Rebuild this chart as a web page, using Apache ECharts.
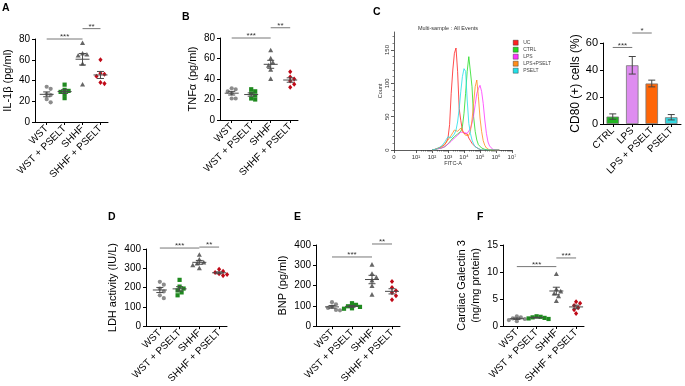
<!DOCTYPE html>
<html>
<head>
<meta charset="utf-8">
<title>PSELT panels</title>
<script src="https://cdn.jsdelivr.net/npm/echarts@6.0.0/dist/echarts.min.js"></script>
<style>
  html, body { margin: 0; padding: 0; background: #fff; }
  #chart { width: 685px; height: 386px; }
</style>
</head>
<body>
<div id="chart"></div>
<script>
// group names shared by the dot plots
const groups = ['WST', 'WST + PSELT', 'SHHF', 'SHHF + PSELT'];

// A: IL-1β (pg/ml)
const il1bWst = [34, 32, 27, 26, 22, 19];
const il1bWstPselt = [36, 31, 30, 29, 27, 23];
const il1bShhf = [76, 66, 65, 64, 56, 36];
const il1bShhfPselt = [60, 47, 46, 44, 38, 37];
const il1bSig = [[0, 2, 80, '***'], [2, 3, 90, '**']];

// B: TNFα (pg/ml)
const tnfWst = [31, 30, 28, 26, 21, 21];
const tnfWstPselt = [30, 28, 26, 24, 21, 20];
const tnfShhf = [68, 60, 56, 53, 49, 40];
const tnfShhfPselt = [47, 42, 40, 38, 35, 32];
const tnfSig = [[0, 2, 80, '***'], [2, 3, 90, '**']];

// C: flow histogram (x = decade position on FITC-A axis)
const histNames = ['UC', 'CTRL', 'LPS', 'LPS+PSELT', 'PSELT'];
const histX = [2.0, 2.1, 2.2, 2.3, 2.4, 2.5, 2.6, 2.7, 2.8, 2.9,
               3.0, 3.1, 3.2, 3.3, 3.4, 3.5, 3.6, 3.7, 3.8, 3.9,
               4.0, 4.1, 4.2, 4.3, 4.4, 4.5, 4.6, 4.7, 4.8, 4.9,
               5.0, 5.1, 5.2, 5.3, 5.4, 5.5, 5.6, 5.7, 5.8, 5.9,
               6.0, 6.1, 6.2];
const ucCount = [0, 1, 1, 2, 3, 4, 5, 6, 8, 12,
                 18, 38, 85, 120, 145, 153, 118, 62, 44, 30,
                 25, 22, 24, 18, 14, 10, 7, 5, 3, 2,
                 1, 0, 0, 0, 0, 0, 0, 0, 0, 0, 0, 0, 0];
const ctrlCount = [0, 0, 1, 1, 2, 2, 3, 4, 5, 7,
                   9, 12, 15, 18, 20, 22, 24, 26, 28, 35,
                   55, 85, 118, 140, 143, 95, 50, 28, 15, 8,
                   5, 3, 2, 1, 0, 0, 0, 0, 0, 0, 0, 0, 0];
const lpsCount = [0, 0, 1, 1, 2, 2, 3, 4, 5, 7,
                  9, 11, 13, 15, 18, 20, 22, 25, 27, 28,
                  26, 24, 25, 28, 32, 40, 52, 68, 85, 92,
                  97, 88, 70, 45, 25, 12, 6, 3, 1, 0, 0, 0, 0];
const lpsPseltCount = [0, 1, 1, 2, 3, 4, 5, 7, 9, 12,
                       15, 18, 22, 26, 30, 32, 28, 30, 33, 28,
                       25, 22, 20, 22, 28, 45, 70, 95, 105, 80,
                       48, 28, 14, 7, 3, 1, 0, 0, 0, 0, 0, 0, 0];
const pseltCount = [0, 1, 1, 2, 3, 4, 6, 8, 12, 16,
                    20, 22, 18, 20, 24, 30, 42, 62, 88, 110,
                    122, 118, 75, 40, 25, 15, 9, 5, 3, 2,
                    1, 0, 0, 0, 0, 0, 0, 0, 0, 0, 0, 0, 0];
const histCountTicks = [0, 50, 100, 150];

// C: CD80 (+) cells (%)
const cdCats = ['CTRL', 'LPS', 'LPS + PSELT', 'PSELT'];
const cdValues = [5.5, 43.5, 30, 5];
const cdErr = [2, 6.5, 2.5, 2];
const cdSig = [[0, 1, 56.7, '***'], [1, 2, 67.4, '*']];

// D: LDH activity (IU/L)
const ldhWst = [230, 215, 195, 180, 160, 145];
const ldhWstPselt = [240, 205, 195, 185, 175, 160];
const ldhShhf = [370, 345, 330, 325, 315, 300];
const ldhShhfPselt = [295, 285, 278, 272, 268, 262];
const ldhSig = [[0, 2, 405, '***'], [2, 3, 410, '**']];

// E: BNP (pg/ml)
const bnpWst = [118, 108, 96, 90, 80, 78];
const bnpWstPselt = [113, 105, 98, 95, 88, 86];
const bnpShhf = [303, 258, 240, 225, 198, 155];
const bnpShhfPselt = [220, 190, 175, 165, 150, 130];
const bnpSig = [[0, 2, 341, '***'], [2, 3, 405, '**']];

// F: Cardiac Galectin 3 (ng/mg protein)
const galWst = [1.8, 1.6, 1.4, 1.3, 1.1, 0.9];
const galWstPselt = [1.8, 1.7, 1.6, 1.5, 1.4, 1.3];
const galShhf = [9.6, 6.8, 6.4, 6.0, 5.5, 4.6];
const galShhfPselt = [4.5, 4.2, 3.8, 3.4, 3.0, 2.3];
const galSig = [[0, 2, 11, '***'], [2, 3, 12.6, '***']];

const FONT = 'Liberation Sans, Arial, sans-serif';
const sup = ['⁰', '¹', '²', '³', '⁴', '⁵', '⁶', '⁷'];

const dotLook = [
  { kind: 'circle', size: 4.2, color: '#8c8c8c' },
  { kind: 'rect', size: 4.2, color: '#1f8a1f' },
  { kind: 'triangle', size: 4.6, color: '#666666' },
  { kind: 'diamond', size: 4.2, color: '#c00a18' }
];
const histColors = ['#ff2020', '#22dd22', '#ff33ff', '#ff8c1a', '#22e0e8'];
const barColors = ['#22b422', '#de8cf0', '#ff6608', '#33d8e0'];

const dotPanels = [
  { box: { left: 31, top: 39, width: 77, height: 83 }, xr: [-0.65, 3.42], ymax: 80, step: 20,
    name: 'IL-1β (pg/ml)', gap: 15, sets: [il1bWst, il1bWstPselt, il1bShhf, il1bShhfPselt], sig: il1bSig },
  { box: { left: 220, top: 38, width: 78, height: 82 }, xr: [-0.6, 3.4], ymax: 80, step: 20,
    name: 'TNFα (pg/ml)', gap: 19, sets: [tnfWst, tnfWstPselt, tnfShhf, tnfShhfPselt], sig: tnfSig },
  { box: { left: 146, top: 249, width: 81, height: 81 }, xr: [-0.7, 3.4], ymax: 400, step: 100,
    name: 'LDH activity (IU/L)', gap: 26, sets: [ldhWst, ldhWstPselt, ldhShhf, ldhShhfPselt], sig: ldhSig },
  { box: { left: 316, top: 245, width: 84, height: 82 }, xr: [-0.8, 3.4], ymax: 400, step: 100,
    name: 'BNP (pg/ml)', gap: 22, sets: [bnpWst, bnpWstPselt, bnpShhf, bnpShhfPselt], sig: bnpSig },
  { box: { left: 503, top: 245, width: 81, height: 81 }, xr: [-0.7, 3.4], ymax: 15, step: 5,
    name: 'Cardiac Galectin 3\n(ng/mg protein)', gap: 17, sets: [galWst, galWstPselt, galShhf, galShhfPselt], sig: galSig }
];

function marker(look, x, y) {
  const h = look.size / 2;
  const style = { fill: look.color };
  if (look.kind === 'circle') return { type: 'circle', shape: { cx: x, cy: y, r: h }, style };
  if (look.kind === 'rect') return { type: 'rect', shape: { x: x - h, y: y - h, width: look.size, height: look.size }, style };
  if (look.kind === 'triangle') {
    return { type: 'polygon', shape: { points: [[x, y - h * 1.15], [x + h * 1.1, y + h * 0.85], [x - h * 1.1, y + h * 0.85]] }, style };
  }
  return { type: 'polygon', shape: { points: [[x, y - h * 1.2], [x + h, y], [x, y + h * 1.2], [x - h, y]] }, style };
}

// simple beeswarm: spread points that would overlap
function swarm(ys, d) {
  const order = ys.map((y, i) => i).sort((a, b) => ys[a] - ys[b]);
  const placed = [];
  const offs = ys.map(() => 0);
  order.forEach(i => {
    for (let k = 0; k < 24; k++) {
      const dx = (k % 2 ? 1 : -1) * Math.ceil(k / 2) * d * 0.5;
      if (placed.every(p => (p.x - dx) ** 2 + (p.y - ys[i]) ** 2 >= d * d)) {
        offs[i] = dx;
        placed.push({ x: dx, y: ys[i] });
        break;
      }
    }
  });
  return offs;
}

function stats(a) {
  const m = a.reduce((s, v) => s + v, 0) / a.length;
  const sd = Math.sqrt(a.reduce((s, v) => s + (v - m) ** 2, 0) / (a.length - 1));
  return [m, sd / Math.sqrt(a.length)];
}

function dotSeries(k, gi, vals) {
  const look = dotLook[gi];
  return {
    type: 'custom', xAxisIndex: k, yAxisIndex: k, z: 3,
    data: vals.map(v => [gi, v]),
    renderItem: (params, api) => {
      const ys = vals.map(v => api.coord([gi, v])[1]);
      const offs = swarm(ys, look.size * 0.95);
      const c = api.coord([api.value(0), api.value(1)]);
      return marker(look, c[0] + offs[params.dataIndex], c[1]);
    }
  };
}

function whisker(api, x, m, e, half, cap, color) {
  const c = api.coord([x, m]), t = api.coord([x, m + e]), b = api.coord([x, m - e]);
  const st = { stroke: color, lineWidth: 1 };
  const kids = [
    { type: 'line', shape: { x1: c[0], y1: t[1], x2: c[0], y2: b[1] }, style: st },
    { type: 'line', shape: { x1: c[0] - cap, y1: t[1], x2: c[0] + cap, y2: t[1] }, style: st },
    { type: 'line', shape: { x1: c[0] - cap, y1: b[1], x2: c[0] + cap, y2: b[1] }, style: st }
  ];
  if (half) kids.push({ type: 'line', shape: { x1: c[0] - half, y1: c[1], x2: c[0] + half, y2: c[1] }, style: st });
  return { type: 'group', children: kids };
}

function meanSeries(k, sets) {
  return {
    type: 'custom', xAxisIndex: k, yAxisIndex: k, z: 4,
    data: sets.map((s, gi) => [gi].concat(stats(s))),
    renderItem: (params, api) => whisker(api, api.value(0), api.value(1), api.value(2), 7, 3.5, '#4a4a4a')
  };
}

function sigSeries(k, sig) {
  return {
    type: 'custom', xAxisIndex: k, yAxisIndex: k, z: 5,
    encode: { x: [0, 1], y: 2 },
    data: sig.map(s => [s[0], s[1], s[2]]),
    renderItem: (params, api) => {
      const a = api.coord([api.value(0), api.value(2)]);
      const b = api.coord([api.value(1), api.value(2)]);
      return { type: 'group', children: [
        { type: 'line', shape: { x1: a[0], y1: a[1], x2: b[0], y2: b[1] }, style: { stroke: '#777', lineWidth: 1 } },
        { type: 'text', x: (a[0] + b[0]) / 2, y: a[1] - 2,
          style: { text: sig[params.dataIndex][3], align: 'center', verticalAlign: 'middle', font: '8px ' + FONT, fill: '#333' } }
      ] };
    }
  };
}

const blackLine = { show: true, onZero: false, lineStyle: { color: '#000', width: 1 } };
const blackTick = { show: true, length: 3, lineStyle: { color: '#000', width: 1 } };

const grid = [], xAxis = [], yAxis = [], series = [];

dotPanels.forEach((p, k) => {
  grid.push(p.box);
  xAxis.push({
    type: 'value', gridIndex: k, min: p.xr[0], max: p.xr[1],
    axisLine: blackLine,
    axisTick: Object.assign({ customValues: [0, 1, 2, 3] }, blackTick),
    axisLabel: { customValues: [0, 1, 2, 3], formatter: v => groups[Math.round(v)], rotate: 45,
                 fontSize: 10, margin: 5, color: '#000' },
    splitLine: { show: false }
  });
  yAxis.push({
    type: 'value', gridIndex: k, min: 0, max: p.ymax, interval: p.step,
    name: p.name, nameLocation: 'middle', nameGap: p.gap,
    nameTextStyle: { fontSize: 11, color: '#000', lineHeight: 14 },
    axisLine: blackLine, axisTick: blackTick,
    axisLabel: { fontSize: 10, margin: 5, color: '#000' },
    splitLine: { show: false }
  });
  p.sets.forEach((vals, gi) => series.push(dotSeries(k, gi, vals)));
  series.push(meanSeries(k, p.sets));
  series.push(sigSeries(k, p.sig));
});

// C: histogram
const histMajor = [-0.375, 1, 2, 3, 4, 5, 6, 7];
const histMinor = [];
for (let d = 1; d < 7; d++) for (let m = 2; m < 10; m++) histMinor.push(d + Math.log10(m));
const histMinorY = [];
for (let c = 10; c < 177; c += 10) if (c % 50) histMinorY.push(c);
const grayLine = { show: true, onZero: false, lineStyle: { color: '#333', width: 0.8 } };

grid.push({ left: 394, top: 32, width: 118, height: 118 });   // 5
xAxis.push({
  type: 'value', gridIndex: 5, min: -0.375, max: 7, position: 'bottom',
  name: 'FITC-A', nameLocation: 'middle', nameGap: 10, nameTextStyle: { fontSize: 5.5, color: '#333' },
  axisLine: grayLine,
  axisTick: { customValues: histMajor, length: 3, lineStyle: { color: '#333', width: 0.8 } },
  axisLabel: { customValues: histMajor, formatter: v => (v < 0 ? '0' : '10' + sup[Math.round(v)]),
               fontSize: 6, margin: 4, color: '#333' },
  splitLine: { show: false }
});
xAxis.push({
  type: 'value', gridIndex: 5, min: -0.375, max: 7, position: 'bottom',
  axisLine: { show: false, onZero: false },
  axisTick: { customValues: histMinor, length: 1.5, lineStyle: { color: '#333', width: 0.6 } },
  axisLabel: { show: false }, splitLine: { show: false }
});
yAxis.push({
  type: 'value', gridIndex: 5, min: 0, max: 177, position: 'left',
  name: 'Count', nameLocation: 'middle', nameGap: 11, nameTextStyle: { fontSize: 5.5, color: '#333' },
  axisLine: grayLine,
  axisTick: { customValues: histCountTicks, length: 3, lineStyle: { color: '#333', width: 0.8 } },
  axisLabel: { customValues: histCountTicks, rotate: 90, fontSize: 6, margin: 4, color: '#333' },
  splitLine: { show: false }
});
yAxis.push({
  type: 'value', gridIndex: 5, min: 0, max: 177, position: 'left',
  axisLine: { show: false, onZero: false },
  axisTick: { customValues: histMinorY, length: 1.5, lineStyle: { color: '#333', width: 0.6 } },
  axisLabel: { show: false }, splitLine: { show: false }
});
[ucCount, ctrlCount, lpsCount, lpsPseltCount, pseltCount].forEach((cnt, i) => {
  series.push({
    type: 'line', name: histNames[i], xAxisIndex: 5, yAxisIndex: 5,
    data: histX.map((x, j) => [x, cnt[j]]),
    showSymbol: false, color: histColors[i],
    lineStyle: { width: 0.8, color: histColors[i] }
  });
});

// C: CD80 bars
grid.push({ left: 603, top: 43, width: 78, height: 81 });   // 6
xAxis.push({
  type: 'category', gridIndex: 6, data: cdCats,
  axisLine: blackLine, axisTick: Object.assign({ alignWithLabel: true }, blackTick),
  axisLabel: { rotate: 45, fontSize: 10, margin: 5, color: '#000', interval: 0 }
});
yAxis.push({
  type: 'value', gridIndex: 6, min: 0, max: 60, interval: 20,
  name: 'CD80 (+) cells (%)', nameLocation: 'middle', nameGap: 20,
  nameTextStyle: { fontSize: 12, color: '#000' },
  axisLine: blackLine, axisTick: blackTick,
  axisLabel: { fontSize: 11, margin: 5, color: '#000' },
  splitLine: { show: false }
});
series.push({
  type: 'bar', xAxisIndex: 7, yAxisIndex: 7, barWidth: 12.5,
  data: cdValues.map((v, i) => ({ value: v, itemStyle: { color: barColors[i], borderColor: '#777', borderWidth: 0.8 } }))
});
series.push({
  type: 'custom', xAxisIndex: 7, yAxisIndex: 7, z: 4,
  data: cdValues.map((v, i) => [i, v, cdErr[i]]),
  renderItem: (params, api) => whisker(api, api.value(0), api.value(1), api.value(2), 0, 3.5, '#444')
});
series.push(sigSeries(7, cdSig));

function letter(t, x, y) {
  return { type: 'text', left: x, top: y, style: { text: t, font: 'bold 10.5px ' + FONT, fill: '#000' } };
}

const chart = echarts.init(document.getElementById('chart'), null, { renderer: 'canvas' });
chart.setOption({
  animation: false,
  backgroundColor: '#fff',
  textStyle: { fontFamily: FONT },
  grid, xAxis, yAxis, series,
  legend: {
    data: histNames, orient: 'vertical', left: 513, top: 40, padding: 0,
    itemWidth: 5, itemHeight: 5, itemGap: 1.6, icon: 'rect',
    itemStyle: { borderColor: '#222', borderWidth: 0.4 },
    textStyle: { fontSize: 5, color: '#444' }
  },
  graphic: [
    letter('A', 2, 3), letter('B', 182, 12), letter('C', 373, 7),
    letter('D', 108, 212), letter('E', 294, 212), letter('F', 477, 212),
    { type: 'text', x: 448, y: 28.5,
      style: { text: 'Multi-sample : All Events', align: 'center', verticalAlign: 'middle',
               font: '5.5px ' + FONT, fill: '#333' } }
  ]
});
window.addEventListener('resize', () => chart.resize());
</script>
</body>
</html>
